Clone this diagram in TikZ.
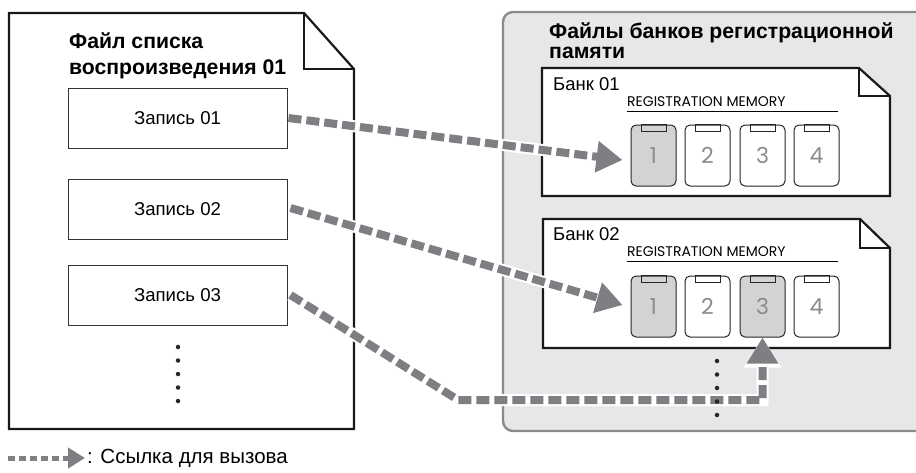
\documentclass[tikz,border=0pt]{standalone}
\usepackage{fontspec}
\setmainfont{Liberation Sans}
\newfontfamily\geofont{Poppins}
\usetikzlibrary{arrows.meta,calc}
\definecolor{arrgray}{HTML}{7D7F82}
\definecolor{panelfill}{HTML}{E6E7E8}
\definecolor{panelline}{HTML}{8A8B8D}
\definecolor{btnfill}{HTML}{D1D3D4}
\definecolor{numgray}{HTML}{8A8B8D}
\begin{document}
\begin{tikzpicture}[x=1pt,y=-1pt,
  docshape/.style={draw=black!90, line width=2.2pt, fill=white, line join=miter},
  foldline/.style={draw=black!90, line width=1.2pt},
  rec/.style={draw=black!80, line width=1pt, fill=white, minimum width=219pt, minimum height=60pt, inner sep=0pt, font=\fontsize{18.6}{20}\selectfont},
  btn/.style={draw=black!85, line width=1pt, rounded corners=5pt, minimum width=45pt, minimum height=61pt, inner sep=0pt, fill=white, text=numgray, font=\geofont\fontsize{22}{22}\selectfont},
  btnon/.style={btn, fill=btnfill},
  tab/.style={draw=black!85, line width=0.9pt},
  halo/.style={draw=white, line width=12pt, -{Triangle[length=30pt,width=36pt]}},
  link/.style={draw=arrgray, line width=8pt, dash pattern=on 13pt off 5pt, -{Triangle[length=26pt,width=30pt]}},
  ttl/.style={anchor=base west, inner sep=0pt, font=\bfseries\fontsize{21.2}{22}\selectfont},
  banklbl/.style={anchor=base west, inner sep=0pt, font=\fontsize{18.5}{20}\selectfont},
  reglbl/.style={anchor=base west, inner sep=0pt, font=\geofont\fontsize{14}{14}\selectfont},
  dot/.style={fill=black!85, circle, inner sep=0pt, minimum size=4.5pt}
]
\path[use as bounding box, clip] (0,0) rectangle (916,472);

% right panel
\draw[fill=panelfill, draw=panelline, line width=2.4pt, rounded corners=10pt] (503,12) rectangle (940,431);
\node[ttl] (pt1) at (549,38) {Файлы банков регистрационной};
\node[ttl] (pt2) at (549,58) {памяти};

% left document
\draw[docshape] (9,13) -- (304,13) -- (354,69) -- (354,429) -- (9,429) -- cycle;
\draw[foldline] (304,13) -- (304,69) -- (354,69);
\node[ttl] (lt1) at (69,48) {Файл списка};
\node[ttl] (lt2) at (69,74) {воспроизведения 01};

\node[rec] (rec1) at (177.5,118) {Запись 01};
\node[rec] (rec2) at (177.5,209) {Запись 02};
\node[rec] (rec3) at (177.5,295) {Запись 03};

\foreach \yy in {347,360.5,374,387.5,401} \node[dot] at (178,\yy) {};

% bank 01
\draw[docshape] (542,68) -- (859,68) -- (890,96) -- (890,196) -- (542,196) -- cycle;
\draw[foldline] (859,68) -- (859,96) -- (890,96);
\node[banklbl] (bk1) at (553,90.5) {Банк 01};
\node[reglbl] (rg1) at (627,106) {REGISTRATION MEMORY};
\draw[line width=0.9pt] (627,111) -- (838,111);
\node[btnon] (b11) at (653.5,155.5) {1};
\node[btn] (b12) at (707.5,155.5) {2};
\node[btn] (b13) at (762.5,155.5) {3};
\node[btn] (b14) at (816.5,155.5) {4};

% bank 02
\draw[docshape] (543,219) -- (860,219) -- (890,248) -- (890,348) -- (543,348) -- cycle;
\draw[foldline] (860,219) -- (860,248) -- (890,248);
\node[banklbl] (bk2) at (553,240) {Банк 02};
\node[reglbl] (rg2) at (627,256) {REGISTRATION MEMORY};
\draw[line width=0.9pt] (627,261) -- (838,261);
\node[btnon] (b21) at (653.5,306.5) {1};
\node[btn] (b22) at (707.5,306.5) {2};
\node[btnon] (b23) at (762.5,306.5) {3};
\node[btn] (b24) at (816.5,306.5) {4};

\foreach \b in {b11,b12,b13,b14,b21,b22,b23,b24}
  \draw[tab] ($(\b.north)+(-12.5,0)$) rectangle ($(\b.north)+(12.5,7)$);

% connectors
\coordinate (c3) at (458,400);
\draw[halo] ($(rec1.east)+(1,0)$) -- ($(b11.west)+(-8,4.5)$);
\draw[link] ($(rec1.east)+(1,0)$) -- ($(b11.west)+(-8,4.5)$);
\draw[halo] ($(rec2.east)+(3,-1)$) -- ($(b21.west)+(-8,-1.5)$);
\draw[link] ($(rec2.east)+(3,-1)$) -- ($(b21.west)+(-8,-1.5)$);
\draw[halo] ($(rec3.east)+(3,0)$) -- (c3) -| (b23.south);
\draw[link] ($(rec3.east)+(3,0)$) -- (c3) -| (b23.south);

\foreach \yy in {361,374.5,388,401.5,415} \node[dot] at (717,\yy) {};

% legend
\coordinate (lg1) at (8,458);
\coordinate (lg2) at (85,458);
\draw[draw=arrgray, line width=5pt, dash pattern=on 7pt off 4pt, -{Triangle[length=17pt,width=20pt]}] (lg1) -- (lg2);
\node[anchor=west, inner sep=0pt, font=\fontsize{20.5}{22}\selectfont] (lgt) at (87,458) {: Ссылка для вызова};
\end{tikzpicture}
\end{document}
